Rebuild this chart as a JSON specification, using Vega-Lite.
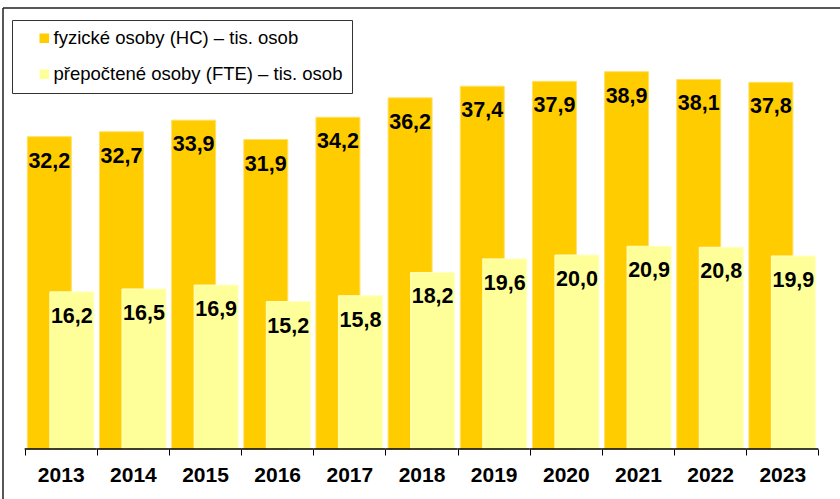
{
  "$schema": "https://vega.github.io/schema/vega-lite/v6.json",
  "width": 837,
  "height": 491,
  "autosize": {"type": "none"},
  "padding": {"left": 3, "top": 8, "right": 0, "bottom": 0},
  "background": "white",
  "config": {
    "view": {"stroke": "#222222", "strokeWidth": 1.5, "strokeDash": [837, 1328, 491, 0]},
    "locale": {"number": {"decimal": ",", "thousands": " ", "grouping": [3], "currency": ["", " Kč"]}},
    "font": "Liberation Sans"
  },
  "data": {
    "values": [
      {"year": "2013", "series": "fyzické osoby (HC) – tis. osob", "value": 32.2},
      {"year": "2014", "series": "fyzické osoby (HC) – tis. osob", "value": 32.7},
      {"year": "2015", "series": "fyzické osoby (HC) – tis. osob", "value": 33.9},
      {"year": "2016", "series": "fyzické osoby (HC) – tis. osob", "value": 31.9},
      {"year": "2017", "series": "fyzické osoby (HC) – tis. osob", "value": 34.2},
      {"year": "2018", "series": "fyzické osoby (HC) – tis. osob", "value": 36.2},
      {"year": "2019", "series": "fyzické osoby (HC) – tis. osob", "value": 37.4},
      {"year": "2020", "series": "fyzické osoby (HC) – tis. osob", "value": 37.9},
      {"year": "2021", "series": "fyzické osoby (HC) – tis. osob", "value": 38.9},
      {"year": "2022", "series": "fyzické osoby (HC) – tis. osob", "value": 38.1},
      {"year": "2023", "series": "fyzické osoby (HC) – tis. osob", "value": 37.8},
      {"year": "2013", "series": "přepočtené osoby (FTE) – tis. osob", "value": 16.2},
      {"year": "2014", "series": "přepočtené osoby (FTE) – tis. osob", "value": 16.5},
      {"year": "2015", "series": "přepočtené osoby (FTE) – tis. osob", "value": 16.9},
      {"year": "2016", "series": "přepočtené osoby (FTE) – tis. osob", "value": 15.2},
      {"year": "2017", "series": "přepočtené osoby (FTE) – tis. osob", "value": 15.8},
      {"year": "2018", "series": "přepočtené osoby (FTE) – tis. osob", "value": 18.2},
      {"year": "2019", "series": "přepočtené osoby (FTE) – tis. osob", "value": 19.6},
      {"year": "2020", "series": "přepočtené osoby (FTE) – tis. osob", "value": 20.0},
      {"year": "2021", "series": "přepočtené osoby (FTE) – tis. osob", "value": 20.9},
      {"year": "2022", "series": "přepočtené osoby (FTE) – tis. osob", "value": 20.8},
      {"year": "2023", "series": "přepočtené osoby (FTE) – tis. osob", "value": 19.9}
    ]
  },
  "encoding": {
    "x": {
      "field": "year",
      "type": "ordinal",
      "scale": {"paddingInner": 0, "paddingOuter": 0.3},
      "axis": {
        "title": null,
        "orient": "bottom",
        "offset": -50,
        "domain": false,
        "grid": false,
        "ticks": true,
        "tickBand": "extent",
        "tickSize": 6,
        "tickWidth": 1,
        "tickColor": "#000000",
        "labelAngle": 0,
        "labelFont": "Liberation Sans",
        "labelFontWeight": "bold",
        "labelFontSize": 21,
        "labelColor": "#000000",
        "labelPadding": 9
      }
    }
  },
  "layer": [
    {
      "transform": [{"filter": {"field": "series", "equal": "fyzické osoby (HC) – tis. osob"}}],
      "mark": {"type": "bar", "width": 44, "xOffset": -11.4, "stroke": "#FFE066", "strokeWidth": 1},
      "encoding": {
        "y": {"field": "value", "type": "quantitative", "scale": {"domain": [-5.155, 45.464], "nice": false, "zero": false}, "axis": null},
        "y2": {"datum": 0},
        "color": {
          "field": "series",
          "type": "nominal",
          "scale": {"domain": ["fyzické osoby (HC) – tis. osob", "přepočtené osoby (FTE) – tis. osob"], "range": ["#FFCC00", "#FFFF99"]},
          "legend": {
            "title": null,
            "orient": "none",
            "legendX": 9,
            "legendY": 12,
            "padding": 9,
            "strokeColor": "#333333",
            "fillColor": "#FFFFFF",
            "symbolType": "square",
            "symbolSize": 90,
            "symbolStrokeWidth": 0,
            "symbolOffset": 14,
            "labelFont": "Liberation Sans",
            "labelFontSize": 18.5,
            "labelColor": "#000000",
            "labelOffset": 0,
            "labelLimit": 400,
            "rowPadding": 17,
            "labelExpr": "datum.label + '      '"
          }
        }
      }
    },
    {
      "transform": [{"filter": {"field": "series", "equal": "přepočtené osoby (FTE) – tis. osob"}}],
      "mark": {"type": "bar", "width": 44, "xOffset": 11.1, "stroke": "#FFFFC4", "strokeWidth": 1},
      "encoding": {
        "y": {"field": "value", "type": "quantitative"},
        "y2": {"datum": 0},
        "color": {"field": "series", "type": "nominal"}
      }
    },
    {
      "transform": [{"filter": {"field": "series", "equal": "fyzické osoby (HC) – tis. osob"}}],
      "mark": {"type": "bar", "width": {"band": 1}, "filled": false, "stroke": "#000000", "strokeWidth": 1.3},
      "encoding": {
        "y": {"datum": 0},
        "y2": {"datum": 0}
      }
    },
    {
      "transform": [{"filter": {"field": "series", "equal": "fyzické osoby (HC) – tis. osob"}}],
      "mark": {"type": "text", "xOffset": -11.4, "dy": 25, "align": "center", "baseline": "middle", "font": "Liberation Sans", "fontWeight": "bold", "fontSize": 21.5, "color": "#000000"},
      "encoding": {
        "y": {"field": "value", "type": "quantitative"},
        "text": {"field": "value", "type": "quantitative", "format": ".1f"}
      }
    },
    {
      "transform": [{"filter": {"field": "series", "equal": "přepočtené osoby (FTE) – tis. osob"}}],
      "mark": {"type": "text", "xOffset": 11.1, "dy": 25, "align": "center", "baseline": "middle", "font": "Liberation Sans", "fontWeight": "bold", "fontSize": 21.5, "color": "#000000"},
      "encoding": {
        "y": {"field": "value", "type": "quantitative"},
        "text": {"field": "value", "type": "quantitative", "format": ".1f"}
      }
    }
  ]
}
